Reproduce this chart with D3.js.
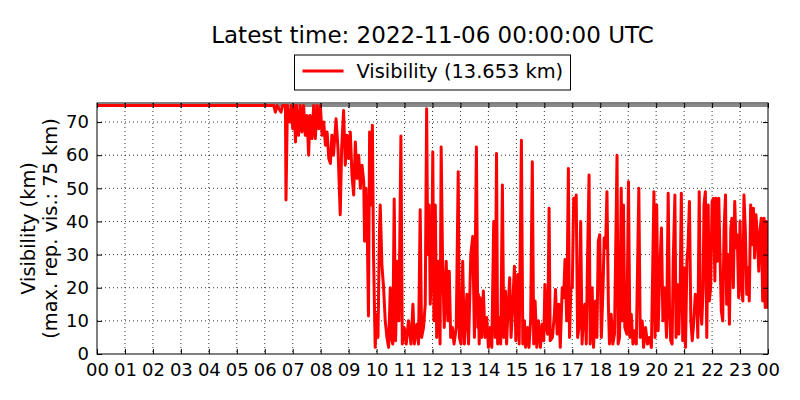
<!DOCTYPE html>
<html>
<head>
<meta charset="utf-8">
<script src="https://cdn.jsdelivr.net/npm/d3@7"></script>
<style>
  body { margin: 0; background: #fff; }
  text { font-family: "DejaVu Sans", sans-serif; fill: #000; }
</style>
</head>
<body>
<svg width="800" height="400"></svg>
<script>
// hours since 00 UTC and visibility in km
var hours = [
  0, 6.32, 6.38, 6.44, 6.58, 6.64, 6.74, 6.76, 6.81, 6.9, 6.95,
  7.0, 7.05, 7.1, 7.14, 7.21, 7.27, 7.33, 7.39, 7.45, 7.51, 7.57, 7.62, 7.69, 7.75, 7.81, 7.87, 7.93, 7.99,
  8.05, 8.11, 8.17, 8.23, 8.29, 8.35, 8.4, 8.46, 8.55, 8.62, 8.7, 8.75, 8.82, 8.88, 8.94,
  9.0, 9.06, 9.12, 9.18, 9.24, 9.3, 9.36, 9.42, 9.48, 9.54, 9.57, 9.62, 9.67, 9.71, 9.75, 9.8, 9.85, 9.89, 9.95,
  10.0, 10.05, 10.1, 10.13, 10.19, 10.25, 10.31, 10.37, 10.43, 10.49, 10.52, 10.58, 10.63, 10.68, 10.75, 10.8, 10.87, 10.92, 10.99,
  11.06, 11.14, 11.23, 11.3, 11.35, 11.44, 11.5, 11.56, 11.61, 11.68, 11.74, 11.79, 11.83, 11.88, 11.92, 11.98,
  12.01, 12.05, 12.1, 12.15, 12.21, 12.27, 12.31, 12.36, 12.42, 12.49, 12.55, 12.6, 12.65, 12.71, 12.77, 12.85, 12.92, 12.96,
  13.02, 13.08, 13.14, 13.23, 13.29, 13.37, 13.44, 13.5, 13.57, 13.62, 13.64, 13.67, 13.7, 13.76, 13.82, 13.88, 13.94,
  14.0, 14.06, 14.12, 14.19, 14.24, 14.29, 14.33, 14.38, 14.44, 14.5, 14.55, 14.61, 14.65, 14.71, 14.76, 14.81, 14.87, 14.93, 14.98,
  15.05, 15.1, 15.18, 15.23, 15.29, 15.33, 15.4, 15.45, 15.51, 15.57, 15.62, 15.67, 15.73, 15.79, 15.86, 15.92, 15.98,
  16.02, 16.07, 16.12, 16.17, 16.21, 16.29, 16.36, 16.4, 16.46, 16.52, 16.57, 16.64, 16.69, 16.74, 16.8, 16.86, 16.9, 16.95,
  17.0, 17.05, 17.08, 17.14, 17.19, 17.24, 17.3, 17.35, 17.4, 17.45, 17.5, 17.55, 17.6, 17.64, 17.71, 17.76, 17.83, 17.88, 17.93, 17.98,
  18.04, 18.1, 18.14, 18.19, 18.24, 18.29, 18.33, 18.39, 18.45, 18.51, 18.6, 18.64, 18.69, 18.75, 18.79, 18.83, 18.88, 18.95,
  19.01, 19.06, 19.11, 19.17, 19.23, 19.29, 19.38, 19.43, 19.5, 19.55, 19.62, 19.69, 19.76, 19.83, 19.92, 19.96,
  20.02, 20.07, 20.14, 20.19, 20.24, 20.3, 20.37, 20.43, 20.48, 20.52, 20.57, 20.61, 20.67, 20.71, 20.76, 20.81, 20.86, 20.9, 20.95,
  21.0, 21.05, 21.1, 21.14, 21.19, 21.24, 21.29, 21.33, 21.4, 21.45, 21.49, 21.54, 21.58, 21.63, 21.68, 21.71, 21.76, 21.81, 21.86, 21.9, 21.95,
  22.0, 22.05, 22.1, 22.14, 22.19, 22.24, 22.27, 22.33, 22.38, 22.43, 22.48, 22.52, 22.57, 22.62, 22.67, 22.71, 22.76, 22.81, 22.86, 22.9, 22.95,
  23.0, 23.05, 23.1, 23.14, 23.19, 23.24, 23.29, 23.33, 23.38, 23.43, 23.48, 23.52, 23.57, 23.62, 23.67, 23.71, 23.76, 23.81, 23.86, 23.9, 23.94, 24.0
];
var visibility = [
  75, 75, 73, 75, 73, 75, 75, 46.5, 75, 70, 75,
  68, 75, 64, 75, 66, 75, 67, 75, 66, 72, 60, 72, 65, 75, 65, 75, 68, 75,
  66, 70, 63, 67, 59, 57.5, 66, 60, 71, 62, 42, 62, 73.5, 57, 66,
  59, 67, 54, 48, 64, 53, 60, 50, 57, 52, 34, 50, 35, 11.5, 67, 45, 69, 30, 2,
  12, 5, 36, 45, 27, 20, 10, 5, 2, 20, 5, 3, 46.8, 4, 28, 10, 65.8, 3, 8,
  3, 10, 3, 15, 3, 9, 3, 43.5, 5, 8, 15, 74, 30, 45, 15, 30,
  61, 10, 45, 5, 28, 3, 62.5, 28, 8, 28, 10, 25, 5, 8, 3, 8, 55, 5,
  3, 28, 3, 18, 3, 30, 35.5, 5, 62.5, 8, 18, 3, 17, 5, 19, 5, 11,
  2, 8, 2, 40, 5, 60.5, 3, 11, 3, 51, 5, 19, 3, 15, 23, 5, 15, 26.5, 4,
  24, 3, 64.5, 3, 10, 2, 8, 2, 10, 58, 3, 16, 2, 10, 2, 9, 4,
  21, 8, 6, 44, 4, 5, 12, 19.5, 6, 15, 2, 20, 17, 28.5, 10, 56, 5, 20,
  20, 47, 44, 48, 5, 8, 40, 3, 12, 15, 3, 31, 54, 3, 20, 2, 16, 5, 34, 36,
  5, 20, 35, 32, 49, 15, 3, 12, 3, 6, 60, 3, 5, 50, 10, 45, 8, 6,
  52, 5, 12, 3, 7, 3, 50, 5, 10, 2, 8, 3, 5, 2, 49, 5,
  45, 7, 28, 38, 10, 20, 5, 48.5, 12, 4, 3, 28, 48, 5, 21, 6, 21, 48.5, 4,
  26, 2, 28, 32.5, 46, 10, 4, 8, 18, 17, 5, 49, 15, 9, 20, 45, 49, 5, 45, 16, 20,
  46, 47, 22, 47, 28, 47, 35, 13, 10, 38, 48, 15, 30, 9, 38, 41, 20, 46, 32, 36, 17,
  40, 20, 16, 48, 37, 18, 26, 16, 45, 33, 44, 29, 42, 35, 25, 37, 41, 16, 41, 14, 40, 13.653
];
var hourTicks = d3.range(0, 25, 1);
var visTicks = [0, 10, 20, 30, 40, 50, 60, 70];
var maxRepVis = 75;
var latestTime = "2022-11-06 00:00:00 UTC";

var svg = d3.select("svg");
var plotL = 97, plotR = 768, plotT = 103, plotB = 354;
var midX = (plotL + plotR) / 2;

var x = d3.scaleLinear().domain([0, 24]).range([plotL, plotR]);
var y = d3.scaleLinear().domain([0, maxRepVis * 1.01]).range([plotB, plotT]);

svg.append("rect").attr("width", 800).attr("height", 400).attr("fill", "#fff");

// dotted grid
var grid = svg.append("g");
grid.selectAll(".vg").data(hourTicks.slice(1, -1)).enter().append("line")
  .attr("x1", function(d){ return x(d); }).attr("x2", function(d){ return x(d); })
  .attr("y1", plotT).attr("y2", plotB)
  .attr("stroke", "#000").attr("stroke-width", 0.8).attr("stroke-dasharray", "1,3");
grid.selectAll(".hg").data(visTicks.slice(1)).enter().append("line")
  .attr("y1", function(d){ return y(d); }).attr("y2", function(d){ return y(d); })
  .attr("x1", plotL).attr("x2", plotR)
  .attr("stroke", "#000").attr("stroke-width", 0.8).attr("stroke-dasharray", "1,3");

svg.append("clipPath").attr("id", "clip").append("rect")
  .attr("x", plotL).attr("y", plotT).attr("width", plotR - plotL).attr("height", plotB - plotT);

// max reportable visibility line
svg.append("line")
  .attr("x1", plotL).attr("x2", plotR)
  .attr("y1", y(maxRepVis)).attr("y2", y(maxRepVis))
  .attr("stroke", "#888").attr("stroke-width", 3);

var line = d3.line()
  .x(function(d, i){ return x(hours[i]); })
  .y(function(d){ return y(d); });

svg.append("path")
  .datum(visibility)
  .attr("clip-path", "url(#clip)")
  .attr("d", line)
  .attr("fill", "none")
  .attr("stroke", "#ff0000")
  .attr("stroke-width", 3)
  .attr("stroke-linejoin", "round");

// axes, ticks pointing in like matplotlib classic
var xb = svg.append("g").attr("transform", "translate(0," + plotB + ")")
  .call(d3.axisBottom(x).tickValues(hourTicks).tickSizeInner(-5).tickSizeOuter(0).tickPadding(9)
    .tickFormat(function(d){ return d3.format("02d")(d % 24); }));
var xt = svg.append("g").attr("transform", "translate(0," + plotT + ")")
  .call(d3.axisTop(x).tickValues(hourTicks).tickSizeInner(-5).tickSizeOuter(0).tickFormat(""));
var yl = svg.append("g").attr("transform", "translate(" + plotL + ",0)")
  .call(d3.axisLeft(y).tickValues(visTicks).tickSizeInner(-5).tickSizeOuter(0).tickPadding(8));
var yr = svg.append("g").attr("transform", "translate(" + plotR + ",0)")
  .call(d3.axisRight(y).tickValues(visTicks).tickSizeInner(-5).tickSizeOuter(0).tickFormat(""));

[xb, xt, yl, yr].forEach(function(a){
  a.attr("font-family", "DejaVu Sans").attr("font-size", 18);
  a.select(".domain").remove();
  a.selectAll("line").attr("stroke", "#000");
  a.selectAll("text").attr("fill", "#000");
});

svg.append("rect").attr("x", plotL).attr("y", plotT)
  .attr("width", plotR - plotL).attr("height", plotB - plotT)
  .attr("fill", "none").attr("stroke", "#000").attr("stroke-width", 1);

// y label
var ylab = svg.append("text")
  .attr("transform", "translate(35," + ((plotT + plotB) / 2) + ") rotate(-90)")
  .attr("text-anchor", "middle").attr("font-size", 19.4);
ylab.append("tspan").attr("x", 0).attr("y", 0).text("Visibility (km)");
ylab.append("tspan").attr("x", 0).attr("y", 22).text("(max. rep. vis.: " + maxRepVis + " km)");

// title
svg.append("text").attr("x", midX).attr("y", 42.5)
  .attr("text-anchor", "middle").attr("font-size", 23)
  .text("Latest time: " + latestTime);

// legend
var lg = svg.append("g");
lg.append("rect").attr("x", midX - 138).attr("y", 55).attr("width", 276).attr("height", 35)
  .attr("fill", "#fff").attr("stroke", "#000").attr("stroke-width", 1);
lg.append("line").attr("x1", midX - 130).attr("x2", midX - 89).attr("y1", 71).attr("y2", 71)
  .attr("stroke", "#ff0000").attr("stroke-width", 3);
lg.append("text").attr("x", midX - 76).attr("y", 78).attr("font-size", 19.4)
  .text("Visibility (" + d3.format(".3f")(visibility[visibility.length - 1]) + " km)");
</script>
</body>
</html>
